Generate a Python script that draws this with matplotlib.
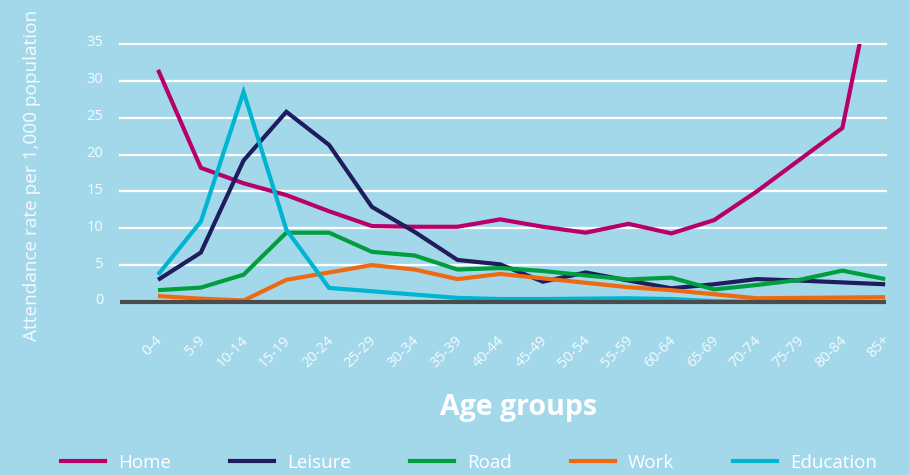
import matplotlib
matplotlib.use("Agg")
import matplotlib.pyplot as plt
import matplotlib.transforms as mtransforms
from matplotlib.lines import Line2D

age_groups = ["0-4", "5-9", "10-14", "15-19", "20-24", "25-29", "30-34", "35-39",
              "40-44", "45-49", "50-54", "55-59", "60-64", "65-69", "70-74",
              "75-79", "80-84", "85+"]

home = [31.5, 18.2, 16.1, 14.5, 12.3, 10.3, 10.2, 10.2, 11.2, 10.2, 9.4, 10.6,
        9.3, 11.1, 15.0, 19.3, 23.6, 52.0]
leisure = [3.0, 6.7, 19.2, 25.8, 21.3, 12.9, 9.5, 5.7, 5.1, 2.75, 4.0, 2.9,
           1.85, 2.4, 3.1, 2.9, 2.65, 2.4]
road = [1.6, 1.95, 3.7, 9.4, 9.4, 6.8, 6.3, 4.4, 4.6, 4.2, 3.6, 3.05, 3.3,
        1.7, 2.3, 3.0, 4.25, 3.1]
work = [0.8, 0.45, 0.2, 3.0, 4.0, 5.0, 4.4, 3.1, 3.8, 3.2, 2.6, 2.0, 1.6,
        1.05, 0.5, 0.55, 0.6, 0.65]
education = [3.7, 10.9, 28.5, 9.8, 1.9, 1.45, 1.0, 0.55, 0.4, 0.4, 0.45, 0.5,
             0.4, 0.1, 0.0, 0.0, 0.0, 0.0]

series_names = ["Home", "Leisure", "Road", "Work", "Education"]
series_values = [home, leisure, road, work, education]
colors = ["#b8006a", "#1f1d5e", "#009e3d", "#ee6a12", "#00b5cf"]
yticks = [0, 5, 10, 15, 20, 25, 30, 35]

BG = "#a3d8ea"
TXT = "#f4fbfd"

plt.rcParams['font.family'] = ['Open Sans', 'DejaVu Sans']

fig = plt.figure(figsize=(9.09, 4.75), dpi=100, facecolor=BG)
ax = fig.add_axes([0.132, 0.355, 0.8427, 0.5524])
ax.set_facecolor(BG)

x = list(range(len(age_groups)))
for v, c, n in zip(series_values, colors, series_names):
    ax.plot(x, v, color=c, lw=3.0, solid_joinstyle='miter', solid_capstyle='butt',
            label=n, zorder=3)

for t in yticks[1:]:
    ax.axhline(t, color="white", lw=1.6, zorder=1, clip_on=False)
ax.axhline(0, color="#4b4b4b", lw=3.0, zorder=5)

ax.set_xlim(-0.89, 17.02)
ax.set_ylim(-0.6, 35)

for s in ax.spines.values():
    s.set_visible(False)

ax.set_yticks(yticks)
ax.set_yticklabels([str(t) for t in yticks], color=TXT, fontsize=10.5)
ax.tick_params(axis='y', length=0, pad=12)
up = mtransforms.ScaledTranslation(0, 3 / 100, fig.dpi_scale_trans)
for lab in ax.get_yticklabels():
    lab.set_verticalalignment('center_baseline')
    lab.set_transform(lab.get_transform() + up)

ax.set_xticks(x)
ax.set_xticklabels(age_groups, rotation=45, ha='right', va='top',
                   rotation_mode='anchor', color=TXT, fontsize=10.5)
ax.tick_params(axis='x', length=0, pad=19)
left = mtransforms.ScaledTranslation(-3 / 100, 0, fig.dpi_scale_trans)
for lab in ax.get_xticklabels():
    lab.set_transform(lab.get_transform() + left)

ax.set_ylabel("Attendance rate per 1,000 population", color=TXT, fontsize=13.7)
ax.yaxis.set_label_coords(-0.103, 0.5)

fig.text(519 / 909, 1 - 408 / 475, "Age groups", color="white", fontsize=20.5,
         fontweight='bold', ha='center', va='center')

handles = [Line2D([], [], color=c, lw=3.0) for c in colors]
leg = fig.legend(handles, series_names, loc='center', ncol=5,
                 bbox_to_anchor=(469 / 909, 1 - 463 / 475), frameon=False,
                 fontsize=13.5, handlelength=2.35, handletextpad=0.7,
                 columnspacing=3.15, borderpad=0)
for t in leg.get_texts():
    t.set_color("white")

fig.savefig("out.png", dpi=100, facecolor=BG)
